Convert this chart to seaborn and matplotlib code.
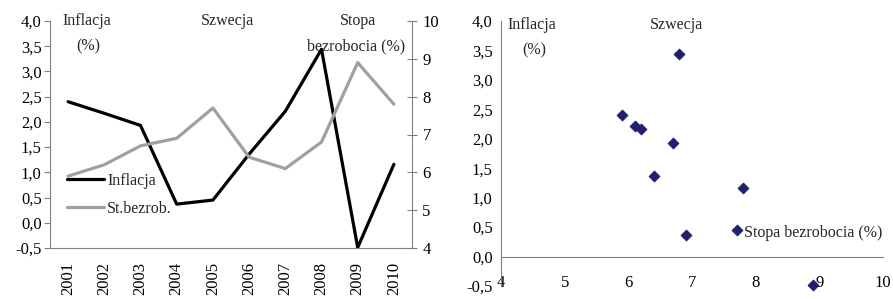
import matplotlib
matplotlib.use("Agg")
import matplotlib.pyplot as plt
import seaborn as sns
import pandas as pd

years = ["2001", "2002", "2003", "2004", "2005", "2006", "2007", "2008", "2009", "2010"]
inflacja = [2.40, 2.17, 1.93, 0.37, 0.45, 1.36, 2.21, 3.44, -0.49, 1.16]
bezrobocie = [5.9, 6.2, 6.7, 6.9, 7.7, 6.4, 6.1, 6.8, 8.9, 7.8]
y_ticks = [-0.5, 0.0, 0.5, 1.0, 1.5, 2.0, 2.5, 3.0, 3.5, 4.0]
y2_ticks = [4, 5, 6, 7, 8, 9, 10]
x_ticks = [4, 5, 6, 7, 8, 9, 10]

df = pd.DataFrame({"rok": years, "Inflacja": inflacja, "St.bezrob.": bezrobocie})

sns.set_style("white")
plt.rcParams["font.family"] = ["Liberation Serif", "DejaVu Serif"]
plt.rcParams["font.size"] = 11.5
plt.rcParams["xtick.labelsize"] = 12
plt.rcParams["ytick.labelsize"] = 12
plt.rcParams["axes.edgecolor"] = "#808080"
plt.rcParams["xtick.color"] = "#808080"
plt.rcParams["ytick.color"] = "#808080"
plt.rcParams["xtick.labelcolor"] = "black"
plt.rcParams["ytick.labelcolor"] = "black"

fig = plt.figure(figsize=(8.93, 2.99), dpi=100)
ax1 = fig.add_axes([50 / 893, 1 - 248 / 299, 362 / 893, 227 / 299])
ax2 = fig.add_axes([501 / 893, 1 - 286 / 299, 382 / 893, 265 / 299])

fmt = lambda v: f"{v:.1f}".replace(".", ",")

# --- lewy wykres: linie, dwie osie
x = list(range(len(years)))
sns.lineplot(x=x, y=df["Inflacja"], ax=ax1, color="black", lw=2.3, label="Inflacja", legend=False)
ax1b = ax1.twinx()
sns.lineplot(x=x, y=df["St.bezrob."], ax=ax1b, color="#a0a0a0", lw=2.3, label="St.bezrob.", legend=False)

ax1.set_xlim(-0.5, len(years) - 0.5)
ax1.set_ylim(-0.5, 4.0)
ax1.set_yticks(y_ticks)
ax1.set_yticklabels([fmt(v) for v in y_ticks])
ax1.set_xticks(x)
ax1.set_xticklabels(years, rotation=90)
ax1.set_xticks([i + 0.5 for i in x[:-1]], minor=True)
ax1.tick_params(axis="x", which="major", length=0, pad=10)
ax1.tick_params(axis="x", which="minor", length=4, direction="out")
ax1.tick_params(axis="y", length=4, direction="out", pad=2)
ax1.set_xlabel("")
ax1.set_ylabel("")
ax1b.set_ylim(4, 10)
ax1b.set_yticks(y2_ticks)
ax1b.tick_params(axis="y", length=7, direction="inout", pad=4)
ax1b.set_ylabel("")
for a in (ax1, ax1b):
    a.spines["top"].set_visible(False)
    for s in a.spines.values():
        s.set_color("#808080")
ax1.spines["right"].set_visible(False)
ax1b.spines["left"].set_visible(False)
ax1b.spines["bottom"].set_visible(False)

h1, l1 = ax1.get_legend_handles_labels()
h2, l2 = ax1b.get_legend_handles_labels()
ax1.legend(h1 + h2, l1 + l2, loc="upper left", bbox_to_anchor=(0.03, 0.36), frameon=False,
           handlelength=2.3, handletextpad=0.2, labelspacing=0.75, borderaxespad=0)

ax1.text(0.035, 1.0, "Inflacja", transform=ax1.transAxes, va="center", ha="left")
ax1.text(0.072, 0.89, "(%)", transform=ax1.transAxes, va="center", ha="left")
ax1.text(0.49, 1.0, "Szwecja", transform=ax1.transAxes, va="center", ha="center")
ax1.text(0.85, 1.0, "Stopa", transform=ax1.transAxes, va="center", ha="center")
ax1.text(0.845, 0.89, "bezrobocia (%)", transform=ax1.transAxes, va="center", ha="center")

# --- prawy wykres: punkty
sns.scatterplot(x=df["St.bezrob."], y=df["Inflacja"], ax=ax2, marker="D", s=32,
                color="#1f1f6b", edgecolor="#1f1f6b", linewidth=0.5, clip_on=False, zorder=3)
ax2.set_xlim(4, 10)
ax2.set_ylim(-0.5, 4.0)
ax2.set_xticks(x_ticks)
ax2.set_yticks(y_ticks)
ax2.set_yticklabels([fmt(v) for v in y_ticks])
ax2.spines["bottom"].set_position(("data", 0))
ax2.spines["top"].set_visible(False)
ax2.spines["right"].set_visible(False)
ax2.tick_params(axis="x", length=4, direction="out", pad=9)
ax2.tick_params(axis="y", length=4, direction="out", pad=2)
ax2.set_xlabel("")
ax2.set_ylabel("")
ax2.text(0.018, 0.985, "Inflacja", transform=ax2.transAxes, va="center", ha="left")
ax2.text(0.055, 0.89, "(%)", transform=ax2.transAxes, va="center", ha="left")
ax2.text(0.46, 0.985, "Szwecja", transform=ax2.transAxes, va="center", ha="center")
ax2.text(0.635, 0.2, "Stopa bezrobocia (%)", transform=ax2.transAxes, va="center", ha="left")

fig.savefig("out.png", dpi=100)
